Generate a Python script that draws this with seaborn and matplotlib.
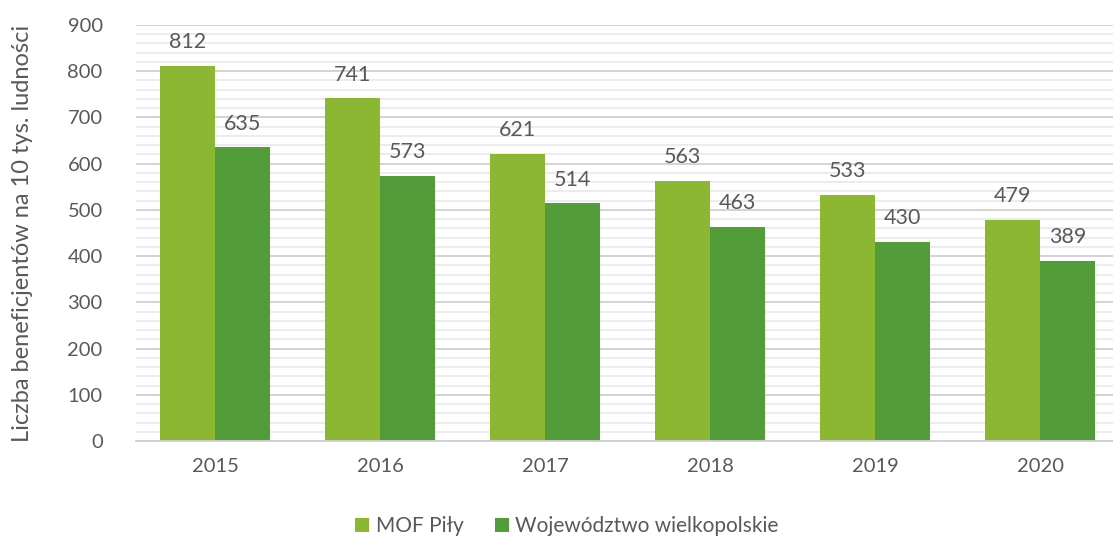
import matplotlib
matplotlib.use("Agg")
import matplotlib.pyplot as plt
import seaborn as sns
import pandas as pd
from matplotlib.ticker import MultipleLocator

years = ["2015", "2016", "2017", "2018", "2019", "2020"]
mof_pily = [812, 741, 621, 563, 533, 479]
wielkopolskie = [635, 573, 514, 463, 430, 389]
series_names = ["MOF Piły", "Województwo wielkopolskie"]
colors = ["#8BB733", "#529C3A"]

df = pd.DataFrame({
    "rok": years * 2,
    "wartosc": mof_pily + wielkopolskie,
    "seria": [series_names[0]] * len(years) + [series_names[1]] * len(years),
})

sns.set_theme(style="white")
plt.rcParams["font.family"] = ["Lato", "DejaVu Sans"]
text_color = "#595959"

fig = plt.figure(figsize=(11.13, 5.38), dpi=100)
ax = fig.add_axes([136 / 1113, 1 - 441 / 538, (1113 - 136) / 1113, (441 - 25) / 538])

sns.barplot(data=df, x="rok", y="wartosc", hue="seria", palette=colors,
            width=0.667, saturation=1, ax=ax, legend=True, linewidth=0)

for cont in ax.containers:
    ax.bar_label(cont, padding=10, fontsize=15.5, color=text_color)

ax.set_ylim(0, 900)
ax.set_xlim(-0.48, 5.44)
ax.yaxis.set_major_locator(MultipleLocator(100))
ax.yaxis.set_minor_locator(MultipleLocator(20))
ax.grid(axis="y", which="major", color="#d0d0d0", linewidth=1.3)
ax.grid(axis="y", which="minor", color="#ebebeb", linewidth=1.3)
ax.set_axisbelow(True)
for s in ["top", "right", "left"]:
    ax.spines[s].set_visible(False)
ax.spines["bottom"].set_color("#d0d0d0")
ax.spines["bottom"].set_linewidth(1.3)

ax.tick_params(axis="both", which="both", length=0, labelsize=14.5, labelcolor=text_color)
ax.tick_params(axis="y", pad=24)
ax.tick_params(axis="x", pad=12)
ax.set_xlabel("")
ax.set_ylabel("Liczba beneficjentów na 10 tys. ludności", fontsize=17, color=text_color)
ax.yaxis.set_label_coords((33 - 136) / (1113 - 136), 0.5)

leg = ax.legend(loc="center", bbox_to_anchor=(0.5 - 136 / 1113 / 2 + 0.002, -0.205), ncol=2,
                frameon=False, fontsize=15, handlelength=0.7, handleheight=0.7,
                handletextpad=0.3, columnspacing=1.5, labelcolor=text_color)

fig.savefig("out.png", dpi=100, facecolor="white")
